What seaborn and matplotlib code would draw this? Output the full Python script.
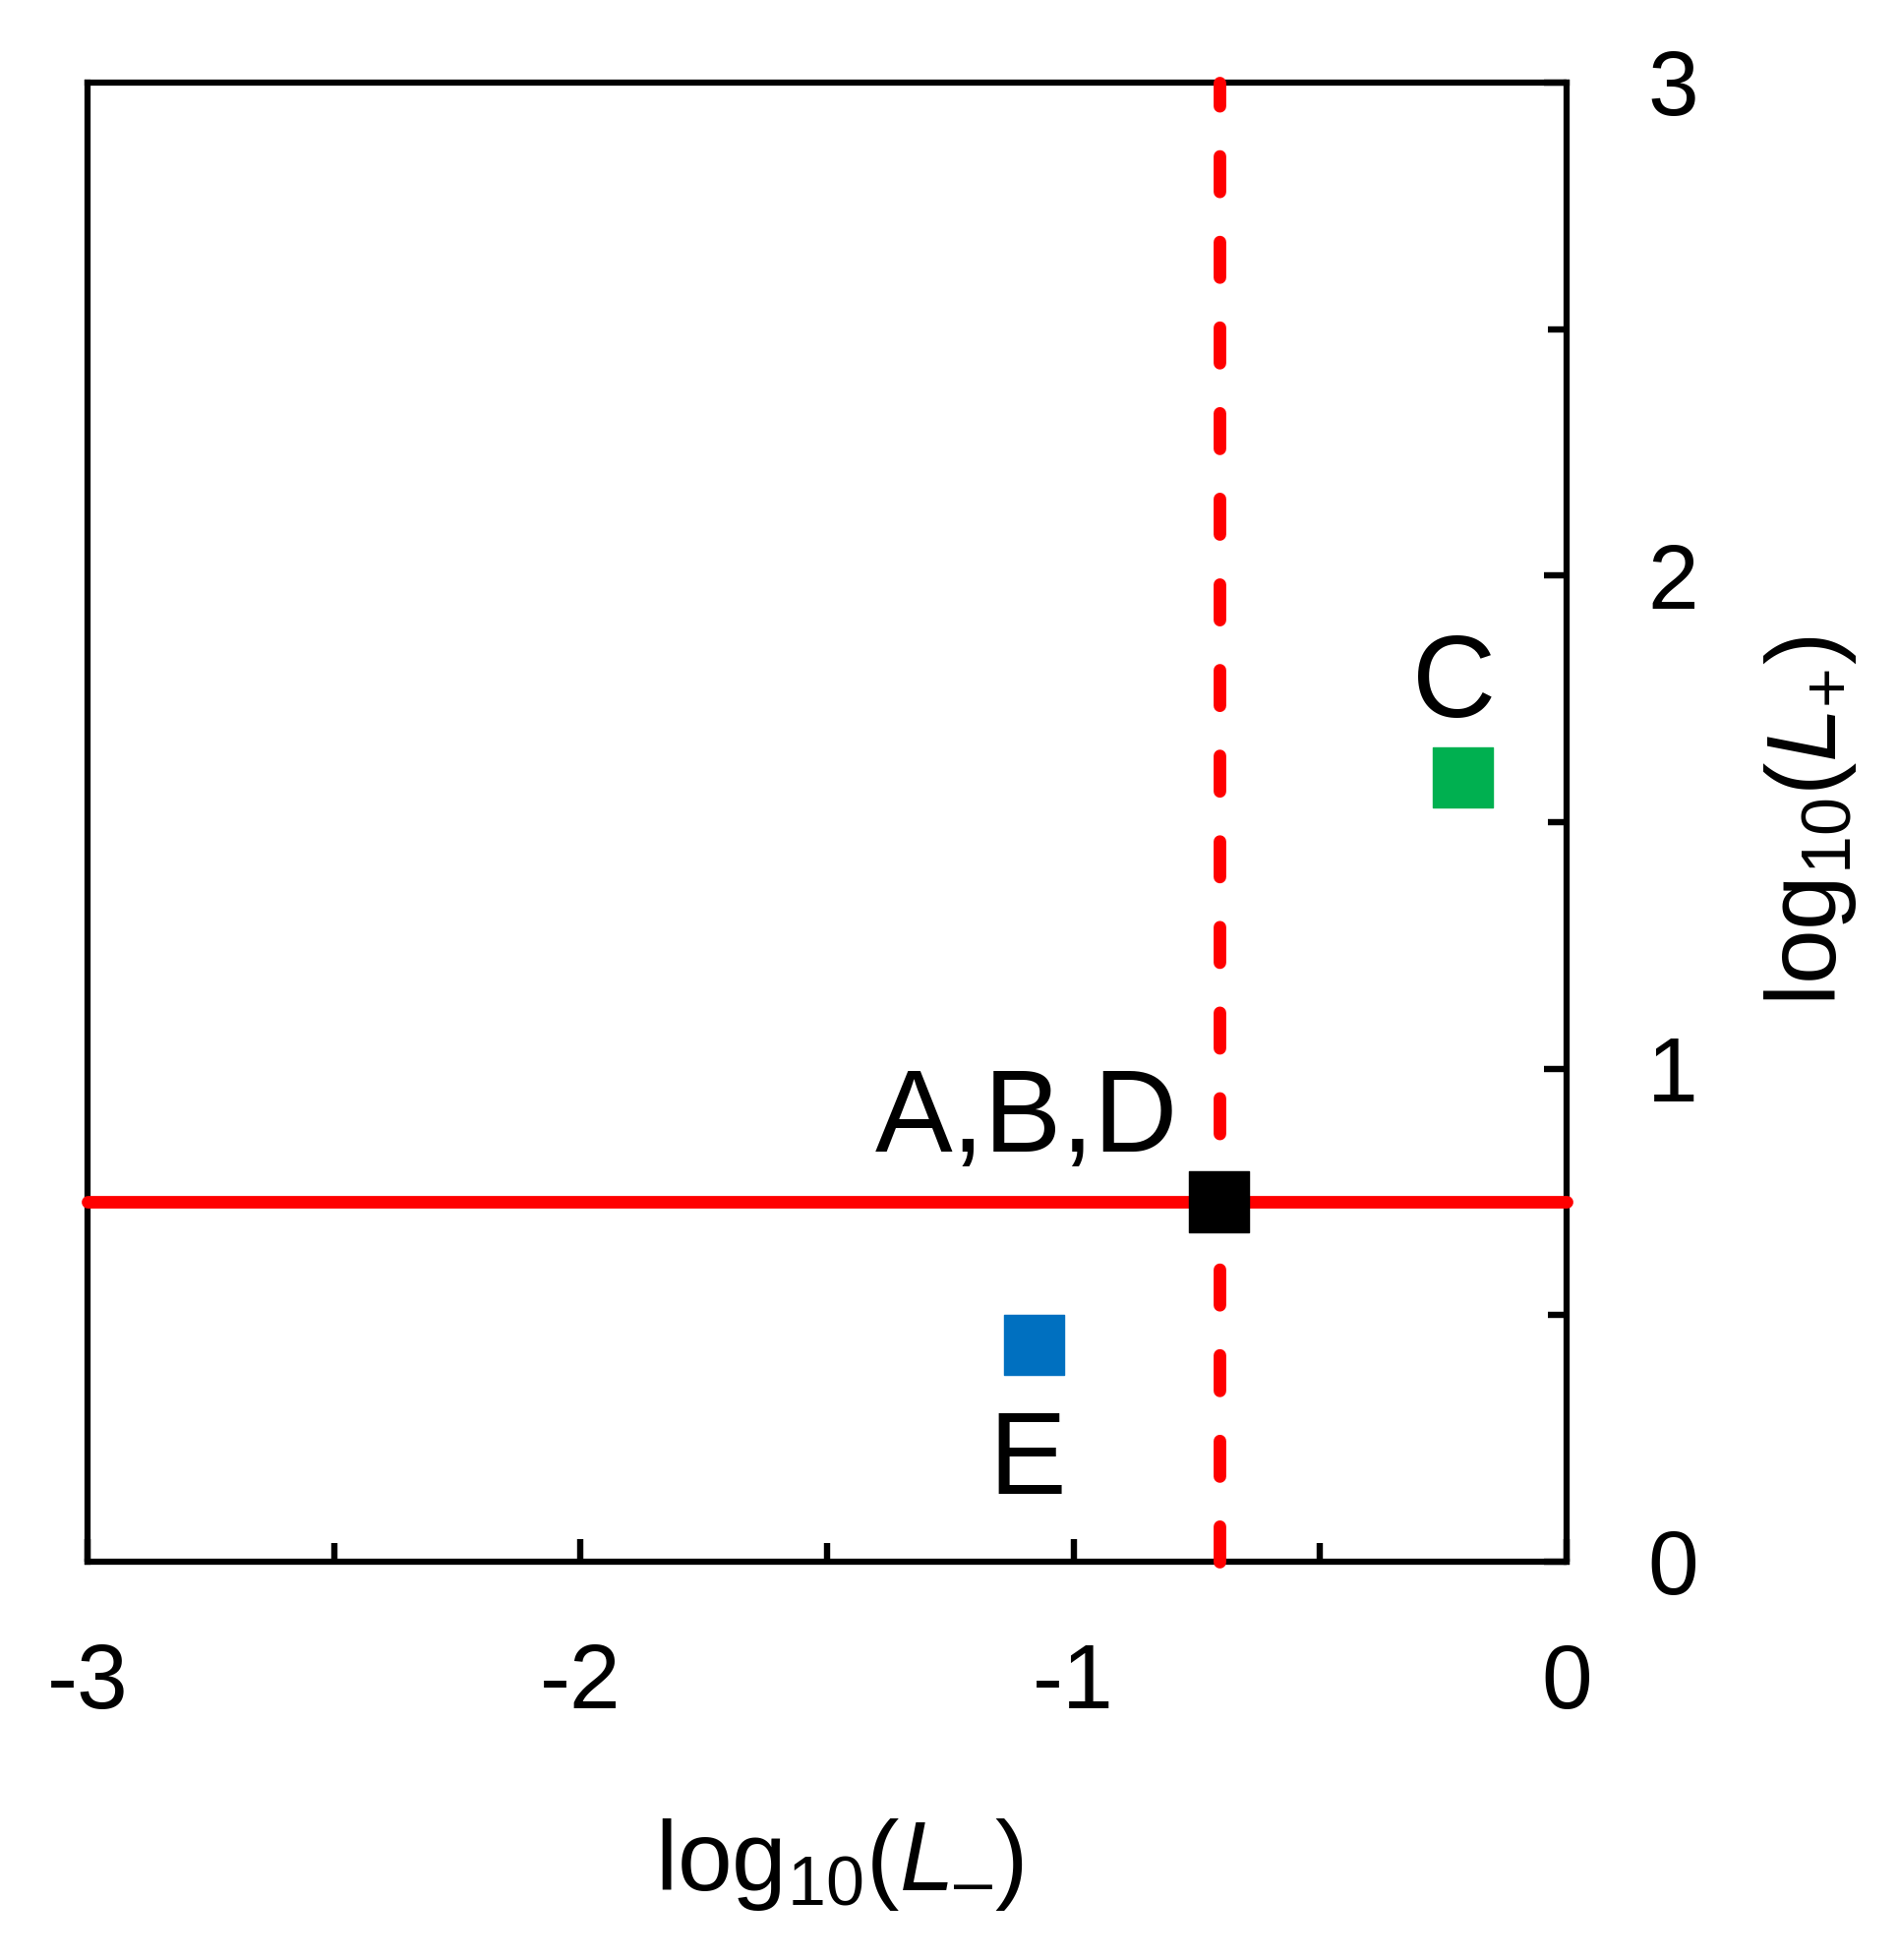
import matplotlib
matplotlib.use("Agg")
import matplotlib.pyplot as plt
import seaborn as sns
import pandas as pd
from matplotlib.ticker import MultipleLocator

# ---- data ----
point_labels = ["A,B,D", "C", "E"]
x_vals = [-0.705, -0.21, -1.08]
y_vals = [0.73, 1.59, 0.44]
point_colors = ["#000000", "#00B050", "#0070C0"]
hline_y = 0.73
vline_x = -0.705
xticks = [-3, -2, -1, 0]
yticks = [0, 1, 2, 3]

# ---- style ----
sns.set_theme(style="white")
plt.rcParams["font.family"] = ["Liberation Sans", "DejaVu Sans"]
plt.rcParams["mathtext.fontset"] = "custom"
plt.rcParams["mathtext.rm"] = "Liberation Sans"
plt.rcParams["mathtext.it"] = "Liberation Sans:italic"
plt.rcParams["axes.unicode_minus"] = False
plt.rcParams["lines.scale_dashes"] = False

W, H = 1931, 1993
fig = plt.figure(figsize=(W / 100, H / 100), dpi=100)
L, R, T, B = 89, 1593, 84, 1588
ax = fig.add_axes([L / W, 1 - B / H, (R - L) / W, (B - T) / H])

df = pd.DataFrame({"x": x_vals, "y": y_vals, "label": point_labels})
sns.scatterplot(data=df, x="x", y="y", hue="label",
                palette=dict(zip(point_labels, point_colors)),
                marker="s", s=1936, linewidth=1.0, edgecolor="face",
                legend=False, zorder=6, clip_on=False, ax=ax)

ax.axhline(hline_y, color="#FF0000", lw=9.2, solid_capstyle="round",
           clip_on=False, zorder=4)
ax.axvline(vline_x, color="#FF0000", lw=9.2, linestyle=(0, (26, 36.7)),
           dash_capstyle="round", clip_on=False, zorder=4)

# point labels (offsets in points)
offsets = {"A,B,D": (-141, 37), "C": (-6.5, 44.6), "E": (-5, -109)}
for lab, xv, yv in zip(point_labels, x_vals, y_vals):
    ax.annotate(lab, xy=(xv, yv), xytext=offsets[lab], textcoords="offset points",
                ha="center", va="baseline", fontsize=85, color="black", zorder=7)

ax.set_xlim(-3, 0)
ax.set_ylim(0, 3)
ax.set_xticks(xticks, labels=[str(v) for v in xticks])
ax.set_yticks(yticks, labels=[str(v) for v in yticks])
ax.xaxis.set_minor_locator(MultipleLocator(0.5))
ax.yaxis.set_minor_locator(MultipleLocator(0.5))

ax.tick_params(axis="x", which="both", direction="in", bottom=True, top=False,
               labelbottom=True, labeltop=False)
ax.tick_params(axis="y", which="both", direction="in", left=False, right=True,
               labelleft=False, labelright=True)
ax.tick_params(which="major", length=16.5, width=4.6, pad=59, labelsize=67,
               colors="black")
ax.tick_params(which="minor", length=13.5, width=4.6, colors="black")

for sp in ax.spines.values():
    sp.set_visible(True)
    sp.set_color("black")
    sp.set_linewidth(4.5)

ax.set_xlabel("log$_{10}$($\\mathit{L}_{\\mathrm{\u2013}}$)", fontsize=72, color="black")
ax.xaxis.set_label_coords(0.508, -0.222)
ax.xaxis.label.set_va("baseline")

ax.yaxis.set_label_position("right")
ax.set_ylabel(r"log$_{10}$($\mathit{L}_{+}$)", fontsize=72, color="black",
              rotation=90)
ax.yaxis.set_label_coords(1.182, 0.501)
ax.yaxis.label.set_rotation_mode("anchor")
ax.yaxis.label.set_va("baseline")
ax.yaxis.label.set_ha("center")

ax.set_facecolor("white")
fig.patch.set_facecolor("white")
fig.savefig("out.png", dpi=100)
